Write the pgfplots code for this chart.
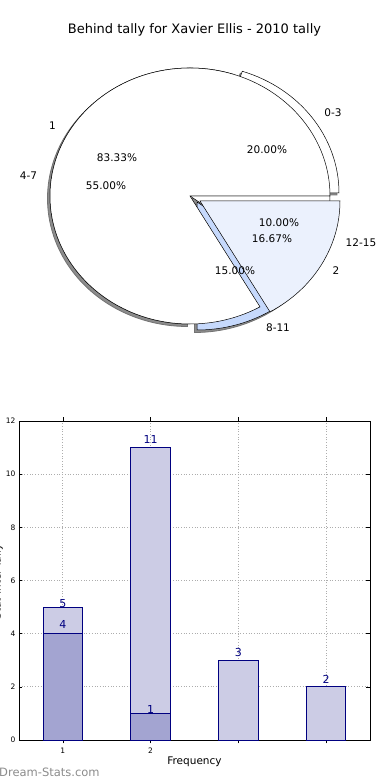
\documentclass[border=0pt]{standalone}
\usepackage{fontspec}
\setmainfont{DejaVu Sans}
\usepackage{pgfplots}
\pgfplotsset{compat=1.18}
\definecolor{navyb}{RGB}{0,0,128}
\definecolor{barlight}{RGB}{204,204,229}
\definecolor{bardark}{RGB}{163,164,209}
\definecolor{pieA}{RGB}{235,241,253}
\definecolor{pieB}{RGB}{198,217,252}
\definecolor{wmark}{RGB}{140,140,140}

% wedge: #1 start angle, #2 end angle, #3 dx, #4 dy (axis units = pt), #5 style
\newcommand{\pwedge}[5]{%
  \filldraw[#5] (axis cs:{190+#3},{584+#4}) -- (axis cs:{190+#3+140*cos(#1)},{584+#4+128*sin(#1)})
    arc[start angle=#1, end angle=#2, x radius=140pt, y radius=128pt] -- cycle;}

\begin{document}
\begin{tikzpicture}
\path[use as bounding box] (0,0) rectangle (390pt,780pt);

% ---------------- pie chart (data: 20, 55, 15, 10 % and 83.33, 16.67 %) -------------
\begin{axis}[at={(0pt,0pt)}, anchor=south west, x=1pt, y=1pt,
  xmin=0, xmax=390, ymin=0, ymax=780, hide axis, clip=false]
  % outer pie shadows (angles from 20%,55%,15%,10%)
  \pwedge{0}{72}{7}{1}{fill=black!45, draw=black!55, line width=0.8pt}
  \pwedge{72}{270}{-2.5}{-2.5}{fill=black!45, draw=black!55, line width=0.8pt}
  \pwedge{270}{324}{4.5}{-8.5}{fill=black!45, draw=black!55, line width=0.8pt}
  \pwedge{324}{360}{-2.5}{-2.5}{fill=black!45, draw=black!55, line width=0.8pt}
  % outer pie wedges
  \pwedge{0}{72}{9}{3}{fill=white, draw=black, line width=0.5pt}
  \pwedge{72}{270}{0}{0}{fill=white, draw=black, line width=0.5pt}
  \pwedge{270}{324}{7}{-6}{fill=pieB, draw=black, line width=0.5pt}
  \pwedge{324}{360}{0}{0}{fill=white, draw=black, line width=0.5pt}
  % inner pie wedges (83.33%, 16.67%)
  \pwedge{0}{300}{0}{0}{fill=white, draw=black, line width=0.5pt}
  \pwedge{300}{360}{10}{-5}{fill=pieA, draw=black, line width=0.5pt}

  % labels
  \begin{scope}[every node/.style={font=\fontsize{10.5}{12}\selectfont, inner sep=0pt}]
  \node at (axis cs:333,667) {0-3};
  \node at (axis cs:52.5,654.5) {1};
  \node at (axis cs:117,622) {83.33\%};
  \node at (axis cs:267,630) {20.00\%};
  \node at (axis cs:28.5,604) {4-7};
  \node at (axis cs:106,594) {55.00\%};
  \node at (axis cs:279,557) {10.00\%};
  \node at (axis cs:272,541) {16.67\%};
  \node at (axis cs:361,537) {12-15};
  \node at (axis cs:235,509) {15.00\%};
  \node at (axis cs:336,509) {2};
  \node at (axis cs:278,452) {8-11};
  \end{scope}
  \node[font=\fontsize{13}{15}\selectfont, inner sep=0pt] at (axis cs:194.5,750.5) {Behind tally for Xavier Ellis - 2010 tally};
  \node[font=\fontsize{11.5}{13}\selectfont, text=wmark, anchor=west, inner sep=0pt] at (axis cs:-1,8) {Dream-Stats.com};
  \node[font=\fontsize{10.5}{12}\selectfont, rotate=90, anchor=south, inner sep=0pt] at (axis cs:3,198) {Stat Inter-Tally};
\end{axis}

% ---------------- bar chart ----------------
\begin{axis}[at={(19pt,40pt)}, anchor=south west, scale only axis,
  width=351pt, height=319pt,
  xmin=0.5, xmax=4.5, ymin=0, ymax=12,
  xtick={1,2,3,4}, xticklabels={1,2,{},{}},
  ytick={0,2,4,6,8,10,12},
  tick align=inside, xtick pos=both, ytick pos=both,
  major tick length=3.5pt,
  tick style={black, line width=0.5pt},
  grid=major, grid style={dash pattern=on 0.9pt off 1.8pt, black!32, line width=0.9pt},
  axis line style={black, line width=0.8pt},
  tick label style={font=\fontsize{7.5}{8}\selectfont},
  /pgf/number format/assume math mode=true,
  xticklabel style={yshift=-1pt},
  xlabel={Frequency}, xlabel style={font=\fontsize{10.5}{12}\selectfont, yshift=4pt},
  ybar, bar width=0.45, bar shift=0pt,
  clip=false]
  \addplot[fill=barlight, draw=navyb, line width=0.8pt] coordinates {(1,5) (2,11) (3,3) (4,2)};
  \addplot[fill=bardark, draw=navyb, line width=0.8pt] coordinates {(1,4) (2,1)};
  \begin{scope}[every node/.style={font=\fontsize{11}{12}\selectfont, text=navyb, inner sep=0pt}]
  \node at (axis cs:1,5.15) {5};
  \node at (axis cs:1,4.33) {4};
  \node at (axis cs:2,11.32) {11};
  \node at (axis cs:2,1.13) {1};
  \node at (axis cs:3,3.31) {3};
  \node at (axis cs:4,2.29) {2};
  \end{scope}
\end{axis}
\end{tikzpicture}
\end{document}
